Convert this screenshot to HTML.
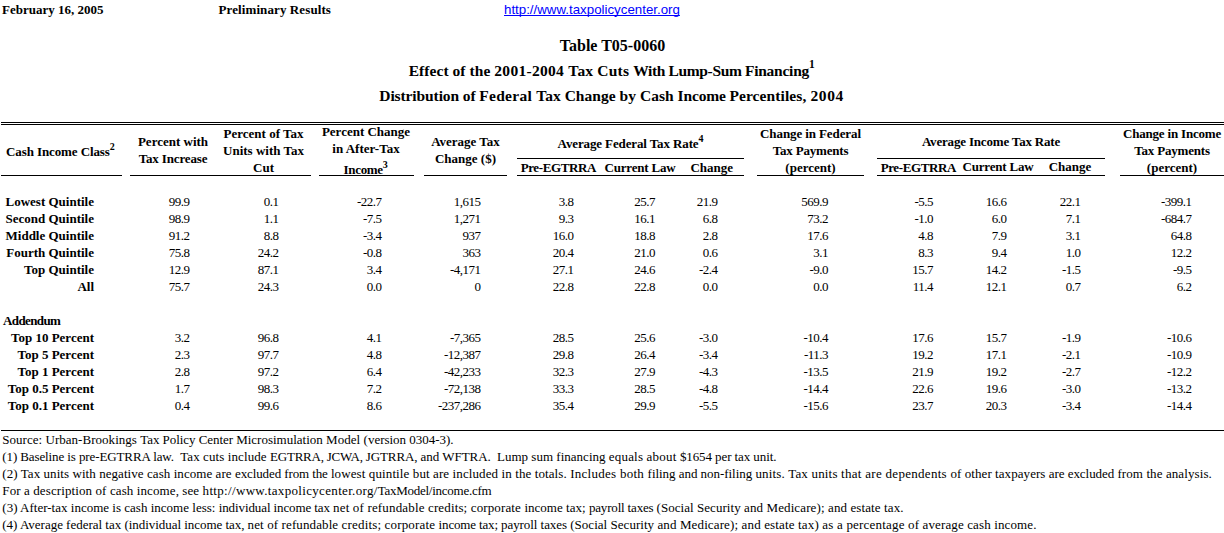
<!DOCTYPE html>
<html><head><meta charset="utf-8"><title>Table T05-0060</title>
<style>
html,body{margin:0;padding:0;background:#fff;}
body{width:1224px;height:533px;position:relative;overflow:hidden;font-family:"Liberation Serif",serif;color:#000;}
.t{position:absolute;white-space:pre;line-height:20px;}
.sup{position:relative;line-height:0;}
.hl{position:absolute;background:#000;}
</style></head><body>
<div class="t" style="top:0px;font-size:13px;font-weight:bold;left:2px;">February 16, 2005</div>
<div class="t" style="top:0px;font-size:13px;font-weight:bold;left:218.5px;letter-spacing:0.1px;">Preliminary Results</div>
<div class="t" style="top:0px;left:504px;font-family:'Liberation Sans',sans-serif;font-size:13.3px;color:#00f;text-decoration:underline;text-decoration-skip-ink:none;">http://www.taxpolicycenter.org</div>
<div class="t" style="top:36px;font-size:16px;font-weight:bold;left:312.5px;width:600px;text-align:center;">Table T05-0060</div>
<div class="t" style="top:61px;font-size:15.5px;font-weight:bold;left:408.7px;letter-spacing:0.058px;">Effect of the </div>
<div class="t" style="top:61px;font-size:15.5px;font-weight:bold;left:494.3px;letter-spacing:0.295px;">2001-2004 </div>
<div class="t" style="top:61px;font-size:15.5px;font-weight:bold;left:568.3px;letter-spacing:0.19px;">Tax Cuts </div>
<div class="t" style="top:61px;font-size:15.5px;font-weight:bold;left:633.2px;letter-spacing:-0.357px;">With </div>
<div class="t" style="top:61px;font-size:15.5px;font-weight:bold;left:668.6px;letter-spacing:-0.365px;">Lump-Sum </div>
<div class="t" style="top:61px;font-size:15.5px;font-weight:bold;left:745.0px;letter-spacing:-0.259px;">Financing<span class="sup" style="font-size:11.5px;top:-8px">1</span></div>
<div class="t" style="top:86px;font-size:15.5px;font-weight:bold;left:379.3px;letter-spacing:-0.102px;">Distribution of </div>
<div class="t" style="top:86px;font-size:15.5px;font-weight:bold;left:479.3px;letter-spacing:0.279px;">Federal </div>
<div class="t" style="top:86px;font-size:15.5px;font-weight:bold;left:536.2px;letter-spacing:0.038px;">Tax Change </div>
<div class="t" style="top:86px;font-size:15.5px;font-weight:bold;left:619.6px;letter-spacing:0.035px;">by Cash </div>
<div class="t" style="top:86px;font-size:15.5px;font-weight:bold;left:677.6px;letter-spacing:-0.165px;">Income </div>
<div class="t" style="top:86px;font-size:15.5px;font-weight:bold;left:729.4px;letter-spacing:0.095px;">Percentiles, </div>
<div class="t" style="top:86px;font-size:15.5px;font-weight:bold;left:810.4px;letter-spacing:0.65px;">2004</div>
<div class="hl" style="left:1px;width:1223px;top:122px;height:1px"></div>
<div class="hl" style="left:1px;width:1223px;top:124px;height:1px"></div>
<div class="hl" style="left:1px;width:121px;top:175px;height:1px"></div>
<div class="hl" style="left:130px;width:181px;top:175px;height:1px"></div>
<div class="hl" style="left:319px;width:95px;top:175px;height:1px"></div>
<div class="hl" style="left:424px;width:83px;top:175px;height:1px"></div>
<div class="hl" style="left:517px;width:227px;top:175px;height:1px"></div>
<div class="hl" style="left:757px;width:107px;top:175px;height:1px"></div>
<div class="hl" style="left:877px;width:228px;top:175px;height:1px"></div>
<div class="hl" style="left:1120px;width:104px;top:175px;height:1px"></div>
<div class="hl" style="left:517px;width:227px;top:158px;height:1px"></div>
<div class="hl" style="left:877px;width:228px;top:158px;height:1px"></div>
<div class="t" style="top:142px;font-size:13px;font-weight:bold;left:6px;letter-spacing:-0.1px;">Cash Income Class<span class="sup" style="font-size:10px;top:-6px">2</span></div>
<div class="t" style="top:132px;font-size:13px;font-weight:bold;left:113.0px;width:120px;text-align:center;">Percent with</div>
<div class="t" style="top:149px;font-size:13px;font-weight:bold;left:113.0px;width:120px;text-align:center;letter-spacing:-0.15px;">Tax Increase</div>
<div class="t" style="top:124px;font-size:13px;font-weight:bold;left:203.5px;width:120px;text-align:center;">Percent of Tax</div>
<div class="t" style="top:141px;font-size:13px;font-weight:bold;left:203.5px;width:120px;text-align:center;">Units with Tax</div>
<div class="t" style="top:158px;font-size:13px;font-weight:bold;left:203.5px;width:120px;text-align:center;">Cut</div>
<div class="t" style="top:122px;font-size:13px;font-weight:bold;left:306.0px;width:120px;text-align:center;">Percent Change</div>
<div class="t" style="top:139px;font-size:13px;font-weight:bold;left:306.0px;width:120px;text-align:center;">in After-Tax</div>
<div class="t" style="top:160px;font-size:13px;font-weight:bold;left:305.5px;width:120px;text-align:center;letter-spacing:-0.3px;">Income<span class="sup" style="font-size:10px;top:-6.5px">3</span></div>
<div class="t" style="top:132px;font-size:13px;font-weight:bold;left:405.5px;width:120px;text-align:center;">Average Tax</div>
<div class="t" style="top:149px;font-size:13px;font-weight:bold;left:405.5px;width:120px;text-align:center;">Change ($)</div>
<div class="t" style="top:134px;font-size:13px;font-weight:bold;left:510.5px;width:240px;text-align:center;letter-spacing:-0.12px;">Average Federal Tax Rate<span class="sup" style="font-size:10px;top:-6px">4</span></div>
<div class="t" style="top:158px;font-size:13px;font-weight:bold;left:498.29999999999995px;width:120px;text-align:center;letter-spacing:-0.4px;">Pre-EGTRRA</div>
<div class="t" style="top:158px;font-size:13px;font-weight:bold;left:580.0px;width:120px;text-align:center;letter-spacing:-0.2px;">Current Law</div>
<div class="t" style="top:158px;font-size:13px;font-weight:bold;left:651.8px;width:120px;text-align:center;">Change</div>
<div class="t" style="top:124px;font-size:13px;font-weight:bold;left:740.5px;width:140px;text-align:center;letter-spacing:-0.1px;">Change in Federal</div>
<div class="t" style="top:141px;font-size:13px;font-weight:bold;left:740.5px;width:140px;text-align:center;letter-spacing:-0.2px;">Tax Payments</div>
<div class="t" style="top:158px;font-size:13px;font-weight:bold;left:740.5px;width:140px;text-align:center;">(percent)</div>
<div class="t" style="top:132px;font-size:13px;font-weight:bold;left:871.0px;width:240px;text-align:center;letter-spacing:-0.18px;">Average Income Tax Rate</div>
<div class="t" style="top:158px;font-size:13px;font-weight:bold;left:858.3px;width:120px;text-align:center;letter-spacing:-0.4px;">Pre-EGTRRA</div>
<div class="t" style="top:157px;font-size:13px;font-weight:bold;left:938.0px;width:120px;text-align:center;letter-spacing:-0.2px;">Current Law</div>
<div class="t" style="top:157px;font-size:13px;font-weight:bold;left:1010.0px;width:120px;text-align:center;">Change</div>
<div class="t" style="top:124px;font-size:13px;font-weight:bold;left:1102.0px;width:140px;text-align:center;letter-spacing:-0.19px;">Change in Income</div>
<div class="t" style="top:141px;font-size:13px;font-weight:bold;left:1102.0px;width:140px;text-align:center;letter-spacing:-0.2px;">Tax Payments</div>
<div class="t" style="top:158px;font-size:13px;font-weight:bold;left:1102.0px;width:140px;text-align:center;">(percent)</div>
<div class="t" style="top:192px;font-size:13px;font-weight:bold;left:-106px;width:200px;text-align:right;">Lowest Quintile</div>
<div class="t" style="top:192px;font-size:13px;left:69.5px;width:120px;text-align:right;letter-spacing:-0.5px;">99.9</div>
<div class="t" style="top:192px;font-size:13px;left:158.5px;width:120px;text-align:right;letter-spacing:-0.5px;">0.1</div>
<div class="t" style="top:192px;font-size:13px;left:261.5px;width:120px;text-align:right;letter-spacing:-0.5px;">-22.7</div>
<div class="t" style="top:192px;font-size:13px;left:360.5px;width:120px;text-align:right;letter-spacing:-0.5px;">1,615</div>
<div class="t" style="top:192px;font-size:13px;left:453.5px;width:120px;text-align:right;letter-spacing:-0.5px;">3.8</div>
<div class="t" style="top:192px;font-size:13px;left:535px;width:120px;text-align:right;letter-spacing:-0.5px;">25.7</div>
<div class="t" style="top:192px;font-size:13px;left:597.5px;width:120px;text-align:right;letter-spacing:-0.5px;">21.9</div>
<div class="t" style="top:192px;font-size:13px;left:708px;width:120px;text-align:right;letter-spacing:-0.5px;">569.9</div>
<div class="t" style="top:192px;font-size:13px;left:813px;width:120px;text-align:right;letter-spacing:-0.5px;">-5.5</div>
<div class="t" style="top:192px;font-size:13px;left:886.5px;width:120px;text-align:right;letter-spacing:-0.5px;">16.6</div>
<div class="t" style="top:192px;font-size:13px;left:960.5px;width:120px;text-align:right;letter-spacing:-0.5px;">22.1</div>
<div class="t" style="top:192px;font-size:13px;left:1071.5px;width:120px;text-align:right;letter-spacing:-0.5px;">-399.1</div>
<div class="t" style="top:209px;font-size:13px;font-weight:bold;left:-106px;width:200px;text-align:right;">Second Quintile</div>
<div class="t" style="top:209px;font-size:13px;left:69.5px;width:120px;text-align:right;letter-spacing:-0.5px;">98.9</div>
<div class="t" style="top:209px;font-size:13px;left:158.5px;width:120px;text-align:right;letter-spacing:-0.5px;">1.1</div>
<div class="t" style="top:209px;font-size:13px;left:261.5px;width:120px;text-align:right;letter-spacing:-0.5px;">-7.5</div>
<div class="t" style="top:209px;font-size:13px;left:360.5px;width:120px;text-align:right;letter-spacing:-0.5px;">1,271</div>
<div class="t" style="top:209px;font-size:13px;left:453.5px;width:120px;text-align:right;letter-spacing:-0.5px;">9.3</div>
<div class="t" style="top:209px;font-size:13px;left:535px;width:120px;text-align:right;letter-spacing:-0.5px;">16.1</div>
<div class="t" style="top:209px;font-size:13px;left:597.5px;width:120px;text-align:right;letter-spacing:-0.5px;">6.8</div>
<div class="t" style="top:209px;font-size:13px;left:708px;width:120px;text-align:right;letter-spacing:-0.5px;">73.2</div>
<div class="t" style="top:209px;font-size:13px;left:813px;width:120px;text-align:right;letter-spacing:-0.5px;">-1.0</div>
<div class="t" style="top:209px;font-size:13px;left:886.5px;width:120px;text-align:right;letter-spacing:-0.5px;">6.0</div>
<div class="t" style="top:209px;font-size:13px;left:960.5px;width:120px;text-align:right;letter-spacing:-0.5px;">7.1</div>
<div class="t" style="top:209px;font-size:13px;left:1071.5px;width:120px;text-align:right;letter-spacing:-0.5px;">-684.7</div>
<div class="t" style="top:226px;font-size:13px;font-weight:bold;left:-106px;width:200px;text-align:right;">Middle Quintile</div>
<div class="t" style="top:226px;font-size:13px;left:69.5px;width:120px;text-align:right;letter-spacing:-0.5px;">91.2</div>
<div class="t" style="top:226px;font-size:13px;left:158.5px;width:120px;text-align:right;letter-spacing:-0.5px;">8.8</div>
<div class="t" style="top:226px;font-size:13px;left:261.5px;width:120px;text-align:right;letter-spacing:-0.5px;">-3.4</div>
<div class="t" style="top:226px;font-size:13px;left:360.5px;width:120px;text-align:right;letter-spacing:-0.5px;">937</div>
<div class="t" style="top:226px;font-size:13px;left:453.5px;width:120px;text-align:right;letter-spacing:-0.5px;">16.0</div>
<div class="t" style="top:226px;font-size:13px;left:535px;width:120px;text-align:right;letter-spacing:-0.5px;">18.8</div>
<div class="t" style="top:226px;font-size:13px;left:597.5px;width:120px;text-align:right;letter-spacing:-0.5px;">2.8</div>
<div class="t" style="top:226px;font-size:13px;left:708px;width:120px;text-align:right;letter-spacing:-0.5px;">17.6</div>
<div class="t" style="top:226px;font-size:13px;left:813px;width:120px;text-align:right;letter-spacing:-0.5px;">4.8</div>
<div class="t" style="top:226px;font-size:13px;left:886.5px;width:120px;text-align:right;letter-spacing:-0.5px;">7.9</div>
<div class="t" style="top:226px;font-size:13px;left:960.5px;width:120px;text-align:right;letter-spacing:-0.5px;">3.1</div>
<div class="t" style="top:226px;font-size:13px;left:1071.5px;width:120px;text-align:right;letter-spacing:-0.5px;">64.8</div>
<div class="t" style="top:243px;font-size:13px;font-weight:bold;left:-106px;width:200px;text-align:right;">Fourth Quintile</div>
<div class="t" style="top:243px;font-size:13px;left:69.5px;width:120px;text-align:right;letter-spacing:-0.5px;">75.8</div>
<div class="t" style="top:243px;font-size:13px;left:158.5px;width:120px;text-align:right;letter-spacing:-0.5px;">24.2</div>
<div class="t" style="top:243px;font-size:13px;left:261.5px;width:120px;text-align:right;letter-spacing:-0.5px;">-0.8</div>
<div class="t" style="top:243px;font-size:13px;left:360.5px;width:120px;text-align:right;letter-spacing:-0.5px;">363</div>
<div class="t" style="top:243px;font-size:13px;left:453.5px;width:120px;text-align:right;letter-spacing:-0.5px;">20.4</div>
<div class="t" style="top:243px;font-size:13px;left:535px;width:120px;text-align:right;letter-spacing:-0.5px;">21.0</div>
<div class="t" style="top:243px;font-size:13px;left:597.5px;width:120px;text-align:right;letter-spacing:-0.5px;">0.6</div>
<div class="t" style="top:243px;font-size:13px;left:708px;width:120px;text-align:right;letter-spacing:-0.5px;">3.1</div>
<div class="t" style="top:243px;font-size:13px;left:813px;width:120px;text-align:right;letter-spacing:-0.5px;">8.3</div>
<div class="t" style="top:243px;font-size:13px;left:886.5px;width:120px;text-align:right;letter-spacing:-0.5px;">9.4</div>
<div class="t" style="top:243px;font-size:13px;left:960.5px;width:120px;text-align:right;letter-spacing:-0.5px;">1.0</div>
<div class="t" style="top:243px;font-size:13px;left:1071.5px;width:120px;text-align:right;letter-spacing:-0.5px;">12.2</div>
<div class="t" style="top:260px;font-size:13px;font-weight:bold;left:-106px;width:200px;text-align:right;">Top Quintile</div>
<div class="t" style="top:260px;font-size:13px;left:69.5px;width:120px;text-align:right;letter-spacing:-0.5px;">12.9</div>
<div class="t" style="top:260px;font-size:13px;left:158.5px;width:120px;text-align:right;letter-spacing:-0.5px;">87.1</div>
<div class="t" style="top:260px;font-size:13px;left:261.5px;width:120px;text-align:right;letter-spacing:-0.5px;">3.4</div>
<div class="t" style="top:260px;font-size:13px;left:360.5px;width:120px;text-align:right;letter-spacing:-0.5px;">-4,171</div>
<div class="t" style="top:260px;font-size:13px;left:453.5px;width:120px;text-align:right;letter-spacing:-0.5px;">27.1</div>
<div class="t" style="top:260px;font-size:13px;left:535px;width:120px;text-align:right;letter-spacing:-0.5px;">24.6</div>
<div class="t" style="top:260px;font-size:13px;left:597.5px;width:120px;text-align:right;letter-spacing:-0.5px;">-2.4</div>
<div class="t" style="top:260px;font-size:13px;left:708px;width:120px;text-align:right;letter-spacing:-0.5px;">-9.0</div>
<div class="t" style="top:260px;font-size:13px;left:813px;width:120px;text-align:right;letter-spacing:-0.5px;">15.7</div>
<div class="t" style="top:260px;font-size:13px;left:886.5px;width:120px;text-align:right;letter-spacing:-0.5px;">14.2</div>
<div class="t" style="top:260px;font-size:13px;left:960.5px;width:120px;text-align:right;letter-spacing:-0.5px;">-1.5</div>
<div class="t" style="top:260px;font-size:13px;left:1071.5px;width:120px;text-align:right;letter-spacing:-0.5px;">-9.5</div>
<div class="t" style="top:277px;font-size:13px;font-weight:bold;left:-106px;width:200px;text-align:right;">All</div>
<div class="t" style="top:277px;font-size:13px;left:69.5px;width:120px;text-align:right;letter-spacing:-0.5px;">75.7</div>
<div class="t" style="top:277px;font-size:13px;left:158.5px;width:120px;text-align:right;letter-spacing:-0.5px;">24.3</div>
<div class="t" style="top:277px;font-size:13px;left:261.5px;width:120px;text-align:right;letter-spacing:-0.5px;">0.0</div>
<div class="t" style="top:277px;font-size:13px;left:360.5px;width:120px;text-align:right;letter-spacing:-0.5px;">0</div>
<div class="t" style="top:277px;font-size:13px;left:453.5px;width:120px;text-align:right;letter-spacing:-0.5px;">22.8</div>
<div class="t" style="top:277px;font-size:13px;left:535px;width:120px;text-align:right;letter-spacing:-0.5px;">22.8</div>
<div class="t" style="top:277px;font-size:13px;left:597.5px;width:120px;text-align:right;letter-spacing:-0.5px;">0.0</div>
<div class="t" style="top:277px;font-size:13px;left:708px;width:120px;text-align:right;letter-spacing:-0.5px;">0.0</div>
<div class="t" style="top:277px;font-size:13px;left:813px;width:120px;text-align:right;letter-spacing:-0.5px;">11.4</div>
<div class="t" style="top:277px;font-size:13px;left:886.5px;width:120px;text-align:right;letter-spacing:-0.5px;">12.1</div>
<div class="t" style="top:277px;font-size:13px;left:960.5px;width:120px;text-align:right;letter-spacing:-0.5px;">0.7</div>
<div class="t" style="top:277px;font-size:13px;left:1071.5px;width:120px;text-align:right;letter-spacing:-0.5px;">6.2</div>
<div class="t" style="top:311px;font-size:13px;font-weight:bold;left:3px;letter-spacing:-0.6px;">Addendum</div>
<div class="t" style="top:328px;font-size:13px;font-weight:bold;left:-106px;width:200px;text-align:right;">Top 10 Percent</div>
<div class="t" style="top:328px;font-size:13px;left:69.5px;width:120px;text-align:right;letter-spacing:-0.5px;">3.2</div>
<div class="t" style="top:328px;font-size:13px;left:158.5px;width:120px;text-align:right;letter-spacing:-0.5px;">96.8</div>
<div class="t" style="top:328px;font-size:13px;left:261.5px;width:120px;text-align:right;letter-spacing:-0.5px;">4.1</div>
<div class="t" style="top:328px;font-size:13px;left:360.5px;width:120px;text-align:right;letter-spacing:-0.5px;">-7,365</div>
<div class="t" style="top:328px;font-size:13px;left:453.5px;width:120px;text-align:right;letter-spacing:-0.5px;">28.5</div>
<div class="t" style="top:328px;font-size:13px;left:535px;width:120px;text-align:right;letter-spacing:-0.5px;">25.6</div>
<div class="t" style="top:328px;font-size:13px;left:597.5px;width:120px;text-align:right;letter-spacing:-0.5px;">-3.0</div>
<div class="t" style="top:328px;font-size:13px;left:708px;width:120px;text-align:right;letter-spacing:-0.5px;">-10.4</div>
<div class="t" style="top:328px;font-size:13px;left:813px;width:120px;text-align:right;letter-spacing:-0.5px;">17.6</div>
<div class="t" style="top:328px;font-size:13px;left:886.5px;width:120px;text-align:right;letter-spacing:-0.5px;">15.7</div>
<div class="t" style="top:328px;font-size:13px;left:960.5px;width:120px;text-align:right;letter-spacing:-0.5px;">-1.9</div>
<div class="t" style="top:328px;font-size:13px;left:1071.5px;width:120px;text-align:right;letter-spacing:-0.5px;">-10.6</div>
<div class="t" style="top:345px;font-size:13px;font-weight:bold;left:-106px;width:200px;text-align:right;">Top 5 Percent</div>
<div class="t" style="top:345px;font-size:13px;left:69.5px;width:120px;text-align:right;letter-spacing:-0.5px;">2.3</div>
<div class="t" style="top:345px;font-size:13px;left:158.5px;width:120px;text-align:right;letter-spacing:-0.5px;">97.7</div>
<div class="t" style="top:345px;font-size:13px;left:261.5px;width:120px;text-align:right;letter-spacing:-0.5px;">4.8</div>
<div class="t" style="top:345px;font-size:13px;left:360.5px;width:120px;text-align:right;letter-spacing:-0.5px;">-12,387</div>
<div class="t" style="top:345px;font-size:13px;left:453.5px;width:120px;text-align:right;letter-spacing:-0.5px;">29.8</div>
<div class="t" style="top:345px;font-size:13px;left:535px;width:120px;text-align:right;letter-spacing:-0.5px;">26.4</div>
<div class="t" style="top:345px;font-size:13px;left:597.5px;width:120px;text-align:right;letter-spacing:-0.5px;">-3.4</div>
<div class="t" style="top:345px;font-size:13px;left:708px;width:120px;text-align:right;letter-spacing:-0.5px;">-11.3</div>
<div class="t" style="top:345px;font-size:13px;left:813px;width:120px;text-align:right;letter-spacing:-0.5px;">19.2</div>
<div class="t" style="top:345px;font-size:13px;left:886.5px;width:120px;text-align:right;letter-spacing:-0.5px;">17.1</div>
<div class="t" style="top:345px;font-size:13px;left:960.5px;width:120px;text-align:right;letter-spacing:-0.5px;">-2.1</div>
<div class="t" style="top:345px;font-size:13px;left:1071.5px;width:120px;text-align:right;letter-spacing:-0.5px;">-10.9</div>
<div class="t" style="top:362px;font-size:13px;font-weight:bold;left:-106px;width:200px;text-align:right;">Top 1 Percent</div>
<div class="t" style="top:362px;font-size:13px;left:69.5px;width:120px;text-align:right;letter-spacing:-0.5px;">2.8</div>
<div class="t" style="top:362px;font-size:13px;left:158.5px;width:120px;text-align:right;letter-spacing:-0.5px;">97.2</div>
<div class="t" style="top:362px;font-size:13px;left:261.5px;width:120px;text-align:right;letter-spacing:-0.5px;">6.4</div>
<div class="t" style="top:362px;font-size:13px;left:360.5px;width:120px;text-align:right;letter-spacing:-0.5px;">-42,233</div>
<div class="t" style="top:362px;font-size:13px;left:453.5px;width:120px;text-align:right;letter-spacing:-0.5px;">32.3</div>
<div class="t" style="top:362px;font-size:13px;left:535px;width:120px;text-align:right;letter-spacing:-0.5px;">27.9</div>
<div class="t" style="top:362px;font-size:13px;left:597.5px;width:120px;text-align:right;letter-spacing:-0.5px;">-4.3</div>
<div class="t" style="top:362px;font-size:13px;left:708px;width:120px;text-align:right;letter-spacing:-0.5px;">-13.5</div>
<div class="t" style="top:362px;font-size:13px;left:813px;width:120px;text-align:right;letter-spacing:-0.5px;">21.9</div>
<div class="t" style="top:362px;font-size:13px;left:886.5px;width:120px;text-align:right;letter-spacing:-0.5px;">19.2</div>
<div class="t" style="top:362px;font-size:13px;left:960.5px;width:120px;text-align:right;letter-spacing:-0.5px;">-2.7</div>
<div class="t" style="top:362px;font-size:13px;left:1071.5px;width:120px;text-align:right;letter-spacing:-0.5px;">-12.2</div>
<div class="t" style="top:379px;font-size:13px;font-weight:bold;left:-106px;width:200px;text-align:right;">Top 0.5 Percent</div>
<div class="t" style="top:379px;font-size:13px;left:69.5px;width:120px;text-align:right;letter-spacing:-0.5px;">1.7</div>
<div class="t" style="top:379px;font-size:13px;left:158.5px;width:120px;text-align:right;letter-spacing:-0.5px;">98.3</div>
<div class="t" style="top:379px;font-size:13px;left:261.5px;width:120px;text-align:right;letter-spacing:-0.5px;">7.2</div>
<div class="t" style="top:379px;font-size:13px;left:360.5px;width:120px;text-align:right;letter-spacing:-0.5px;">-72,138</div>
<div class="t" style="top:379px;font-size:13px;left:453.5px;width:120px;text-align:right;letter-spacing:-0.5px;">33.3</div>
<div class="t" style="top:379px;font-size:13px;left:535px;width:120px;text-align:right;letter-spacing:-0.5px;">28.5</div>
<div class="t" style="top:379px;font-size:13px;left:597.5px;width:120px;text-align:right;letter-spacing:-0.5px;">-4.8</div>
<div class="t" style="top:379px;font-size:13px;left:708px;width:120px;text-align:right;letter-spacing:-0.5px;">-14.4</div>
<div class="t" style="top:379px;font-size:13px;left:813px;width:120px;text-align:right;letter-spacing:-0.5px;">22.6</div>
<div class="t" style="top:379px;font-size:13px;left:886.5px;width:120px;text-align:right;letter-spacing:-0.5px;">19.6</div>
<div class="t" style="top:379px;font-size:13px;left:960.5px;width:120px;text-align:right;letter-spacing:-0.5px;">-3.0</div>
<div class="t" style="top:379px;font-size:13px;left:1071.5px;width:120px;text-align:right;letter-spacing:-0.5px;">-13.2</div>
<div class="t" style="top:396px;font-size:13px;font-weight:bold;left:-106px;width:200px;text-align:right;">Top 0.1 Percent</div>
<div class="t" style="top:396px;font-size:13px;left:69.5px;width:120px;text-align:right;letter-spacing:-0.5px;">0.4</div>
<div class="t" style="top:396px;font-size:13px;left:158.5px;width:120px;text-align:right;letter-spacing:-0.5px;">99.6</div>
<div class="t" style="top:396px;font-size:13px;left:261.5px;width:120px;text-align:right;letter-spacing:-0.5px;">8.6</div>
<div class="t" style="top:396px;font-size:13px;left:360.5px;width:120px;text-align:right;letter-spacing:-0.5px;">-237,286</div>
<div class="t" style="top:396px;font-size:13px;left:453.5px;width:120px;text-align:right;letter-spacing:-0.5px;">35.4</div>
<div class="t" style="top:396px;font-size:13px;left:535px;width:120px;text-align:right;letter-spacing:-0.5px;">29.9</div>
<div class="t" style="top:396px;font-size:13px;left:597.5px;width:120px;text-align:right;letter-spacing:-0.5px;">-5.5</div>
<div class="t" style="top:396px;font-size:13px;left:708px;width:120px;text-align:right;letter-spacing:-0.5px;">-15.6</div>
<div class="t" style="top:396px;font-size:13px;left:813px;width:120px;text-align:right;letter-spacing:-0.5px;">23.7</div>
<div class="t" style="top:396px;font-size:13px;left:886.5px;width:120px;text-align:right;letter-spacing:-0.5px;">20.3</div>
<div class="t" style="top:396px;font-size:13px;left:960.5px;width:120px;text-align:right;letter-spacing:-0.5px;">-3.4</div>
<div class="t" style="top:396px;font-size:13px;left:1071.5px;width:120px;text-align:right;letter-spacing:-0.5px;">-14.4</div>
<div class="hl" style="left:1px;width:1223px;top:430px;height:1px"></div>
<div class="t" style="top:430px;font-size:13px;left:2.3px;letter-spacing:0.029px;">Source: Urban-Brookings </div>
<div class="t" style="top:430px;font-size:13px;left:140.2px;letter-spacing:-0.052px;">Tax Policy Center </div>
<div class="t" style="top:430px;font-size:13px;left:236.2px;letter-spacing:-0.008px;">Microsimulation </div>
<div class="t" style="top:430px;font-size:13px;left:326.0px;letter-spacing:0.066px;">Model </div>
<div class="t" style="top:430px;font-size:13px;left:363.6px;letter-spacing:-0.016px;">(version 0304-3).</div>
<div class="t" style="top:447px;font-size:13px;left:2.3px;letter-spacing:-0.109px;">(1) Baseline is pre-EGTRRA law.  </div>
<div class="t" style="top:447px;font-size:13px;left:180.2px;letter-spacing:0.096px;">Tax cuts include </div>
<div class="t" style="top:447px;font-size:13px;left:270.1px;letter-spacing:-0.24px;">EGTRRA, JCWA, </div>
<div class="t" style="top:447px;font-size:13px;left:365.7px;letter-spacing:-0.087px;">JGTRRA, and </div>
<div class="t" style="top:447px;font-size:13px;left:442.3px;letter-spacing:-0.069px;">WFTRA.  </div>
<div class="t" style="top:447px;font-size:13px;left:497.0px;letter-spacing:0.012px;">Lump sum financing </div>
<div class="t" style="top:447px;font-size:13px;left:608.8px;letter-spacing:0.193px;">equals about </div>
<div class="t" style="top:447px;font-size:13px;left:679.9px;letter-spacing:-0.09px;">$1654 per tax unit.</div>
<div class="t" style="top:464px;font-size:13px;left:2.3px;letter-spacing:0.064px;">(2) Tax units with negative cash income are </div>
<div class="t" style="top:464px;font-size:13px;left:235.0px;letter-spacing:-0.107px;">excluded from the </div>
<div class="t" style="top:464px;font-size:13px;left:330.9px;letter-spacing:0.108px;">lowest quintile </div>
<div class="t" style="top:464px;font-size:13px;left:412.8px;letter-spacing:0.1px;">but are included </div>
<div class="t" style="top:464px;font-size:13px;left:501.5px;letter-spacing:0.102px;">in the totals. </div>
<div class="t" style="top:464px;font-size:13px;left:570.2px;letter-spacing:0.267px;">Includes both </div>
<div class="t" style="top:464px;font-size:13px;left:647.6px;letter-spacing:-0.04px;">filing and non-filing </div>
<div class="t" style="top:464px;font-size:13px;left:755.4px;letter-spacing:0.18px;">units. Tax units </div>
<div class="t" style="top:464px;font-size:13px;left:841.1px;letter-spacing:0.29px;">that are dependents </div>
<div class="t" style="top:464px;font-size:13px;left:950.5px;letter-spacing:0.063px;">of other taxpayers </div>
<div class="t" style="top:464px;font-size:13px;left:1048.8px;letter-spacing:-0.054px;">are excluded </div>
<div class="t" style="top:464px;font-size:13px;left:1117.4px;letter-spacing:0.095px;">from the analysis.</div>
<div class="t" style="top:481px;font-size:13px;left:2.3px;letter-spacing:0.103px;">For a description of cash income, see </div>
<div class="t" style="top:481px;font-size:13px;left:202.6px;letter-spacing:0.326px;">http://www.taxpolicycenter.org/</div>
<div class="t" style="top:481px;font-size:13px;left:377.7px;letter-spacing:-0.258px;">TaxModel/income.cfm</div>
<div class="t" style="top:498px;font-size:13px;left:2.3px;letter-spacing:0.01px;">(3) After-tax income is cash income less: </div>
<div class="t" style="top:498px;font-size:13px;left:218.7px;letter-spacing:-0.101px;">individual income tax </div>
<div class="t" style="top:498px;font-size:13px;left:333.1px;letter-spacing:0.159px;">net of refundable </div>
<div class="t" style="top:498px;font-size:13px;left:428.0px;letter-spacing:0.135px;">credits; corporate </div>
<div class="t" style="top:498px;font-size:13px;left:524.4px;letter-spacing:0.02px;">income tax; </div>
<div class="t" style="top:498px;font-size:13px;left:588.9px;letter-spacing:-0.168px;">payroll taxes </div>
<div class="t" style="top:498px;font-size:13px;left:656.6px;letter-spacing:0.044px;">(Social Security </div>
<div class="t" style="top:498px;font-size:13px;left:744.0px;letter-spacing:0.114px;">and Medicare); </div>
<div class="t" style="top:498px;font-size:13px;left:828.0px;letter-spacing:0.107px;">and estate tax.</div>
<div class="t" style="top:515px;font-size:13px;left:2.3px;letter-spacing:-0.015px;">(4) Average federal tax </div>
<div class="t" style="top:515px;font-size:13px;left:124.4px;letter-spacing:-0.042px;">(individual income tax, </div>
<div class="t" style="top:515px;font-size:13px;left:247.6px;letter-spacing:0.109px;">net of refundable </div>
<div class="t" style="top:515px;font-size:13px;left:341.6px;letter-spacing:0.166px;">credits; corporate </div>
<div class="t" style="top:515px;font-size:13px;left:438.6px;letter-spacing:-0.155px;">income tax; </div>
<div class="t" style="top:515px;font-size:13px;left:501.0px;letter-spacing:-0.06px;">payroll taxes </div>
<div class="t" style="top:515px;font-size:13px;left:570.2px;letter-spacing:0.032px;">(Social Security </div>
<div class="t" style="top:515px;font-size:13px;left:657.4px;letter-spacing:0.127px;">and Medicare); </div>
<div class="t" style="top:515px;font-size:13px;left:741.6px;letter-spacing:0.148px;">and estate tax) </div>
<div class="t" style="top:515px;font-size:13px;left:822.3px;letter-spacing:0.197px;">as a percentage </div>
<div class="t" style="top:515px;font-size:13px;left:908.1px;letter-spacing:0.126px;">of average cash income.</div>
</body></html>
